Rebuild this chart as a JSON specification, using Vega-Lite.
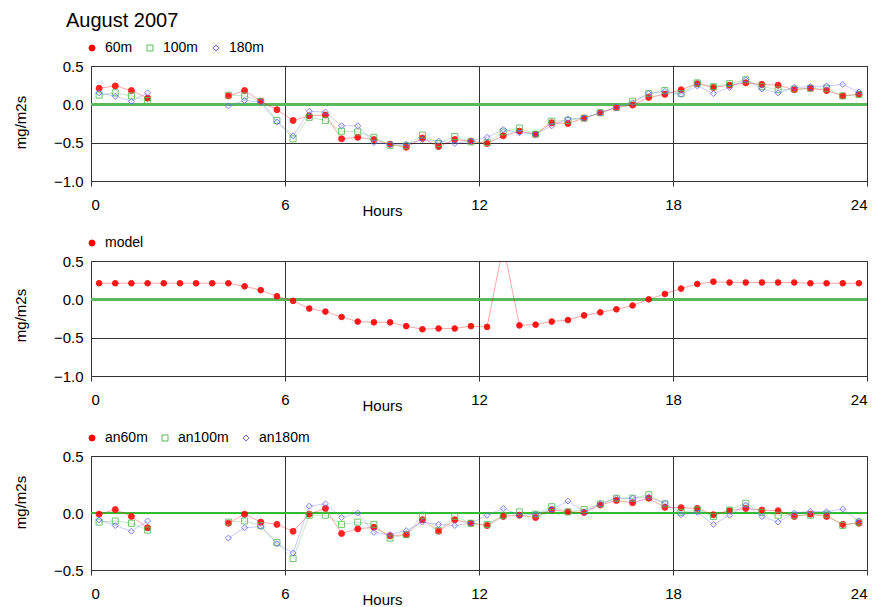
{
  "$schema": "https://vega.github.io/schema/vega-lite/v6.json",
  "padding": {"left": 12, "top": 10, "right": 0, "bottom": 0},
  "bounds": "flush",
  "spacing": 80,
  "title": {"text": "August 2007", "anchor": "start", "frame": "group", "fontSize": 20, "font": "Liberation Sans", "fontWeight": "normal", "color": "#000", "dx": -25, "offset": 10},
  "config": {
    "view": {"stroke": "#444", "strokeWidth": 1},
    "axis": {"labelFont": "Liberation Sans", "labelFontSize": 15, "labelColor": "#000", "titleFont": "Liberation Sans", "titleFontSize": 15, "titleFontWeight": "normal", "titleColor": "#000", "gridColor": "#333", "gridOpacity": 1, "gridWidth": 1, "tickColor": "#333", "domain": false},
    "legend": {"labelFont": "Liberation Sans", "labelFontSize": 14, "labelColor": "#000", "orient": "none", "legendX": -6, "legendY": -25, "direction": "horizontal", "title": null, "padding": 0, "labelOffset": 6, "columnPadding": 10, "symbolStrokeWidth": 1, "symbolSize": 36, "symbolOpacity": 1}
  },
  "datasets": {
    "obs": [
      {"h": 0.25, "60m": 0.21, "100m": 0.12, "180m": 0.15, "model": 0.21, "an60m": -0.01, "an100m": -0.08, "an180m": -0.06},
      {"h": 0.75, "60m": 0.24, "100m": 0.15, "180m": 0.105, "model": 0.21, "an60m": 0.03, "an100m": -0.07, "an180m": -0.11},
      {"h": 1.25, "60m": 0.18, "100m": 0.11, "180m": 0.04, "model": 0.21, "an60m": -0.03, "an100m": -0.09, "an180m": -0.16},
      {"h": 1.75, "60m": 0.08, "100m": 0.05, "180m": 0.15, "model": 0.21, "an60m": -0.13, "an100m": -0.15, "an180m": -0.07},
      {"h": 2.25, "60m": null, "100m": null, "180m": null, "model": 0.21, "an60m": null, "an100m": null, "an180m": null},
      {"h": 2.75, "60m": null, "100m": null, "180m": null, "model": 0.21, "an60m": null, "an100m": null, "an180m": null},
      {"h": 3.25, "60m": null, "100m": null, "180m": null, "model": 0.21, "an60m": null, "an100m": null, "an180m": null},
      {"h": 3.75, "60m": null, "100m": null, "180m": null, "model": 0.21, "an60m": null, "an100m": null, "an180m": null},
      {"h": 4.25, "60m": 0.11, "100m": 0.12, "180m": -0.02, "model": 0.21, "an60m": -0.09, "an100m": -0.08, "an180m": -0.22},
      {"h": 4.75, "60m": 0.18, "100m": 0.11, "180m": 0.05, "model": 0.17, "an60m": -0.01, "an100m": -0.07, "an180m": -0.13},
      {"h": 5.25, "60m": 0.04, "100m": 0.04, "180m": 0.03, "model": 0.12, "an60m": -0.08, "an100m": -0.11, "an180m": -0.12},
      {"h": 5.75, "60m": -0.07, "100m": -0.21, "180m": -0.23, "model": 0.04, "an60m": -0.10, "an100m": -0.26, "an180m": -0.27},
      {"h": 6.25, "60m": -0.21, "100m": -0.45, "180m": -0.41, "model": -0.02, "an60m": -0.16, "an100m": -0.40, "an180m": -0.35},
      {"h": 6.75, "60m": -0.15, "100m": -0.17, "180m": -0.09, "model": -0.12, "an60m": -0.01, "an100m": -0.02, "an180m": 0.06},
      {"h": 7.25, "60m": -0.14, "100m": -0.21, "180m": -0.10, "model": -0.16, "an60m": 0.04, "an100m": -0.02, "an180m": 0.08},
      {"h": 7.75, "60m": -0.45, "100m": -0.35, "180m": -0.28, "model": -0.23, "an60m": -0.18, "an100m": -0.10, "an180m": -0.04},
      {"h": 8.25, "60m": -0.43, "100m": -0.36, "180m": -0.28, "model": -0.29, "an60m": -0.14, "an100m": -0.08, "an180m": 0.00},
      {"h": 8.75, "60m": -0.46, "100m": -0.43, "180m": -0.50, "model": -0.30, "an60m": -0.125, "an100m": -0.10, "an180m": -0.17},
      {"h": 9.25, "60m": -0.52, "100m": -0.535, "180m": -0.52, "model": -0.30, "an60m": -0.20, "an100m": -0.22, "an180m": -0.19},
      {"h": 9.75, "60m": -0.56, "100m": -0.54, "180m": -0.52, "model": -0.35, "an60m": -0.19, "an100m": -0.19, "an180m": -0.155},
      {"h": 10.25, "60m": -0.44, "100m": -0.40, "180m": -0.46, "model": -0.39, "an60m": -0.06, "an100m": -0.02, "an180m": -0.08},
      {"h": 10.75, "60m": -0.55, "100m": -0.51, "180m": -0.48, "model": -0.38, "an60m": -0.16, "an100m": -0.155, "an180m": -0.10},
      {"h": 11.25, "60m": -0.46, "100m": -0.42, "180m": -0.51, "model": -0.38, "an60m": -0.06, "an100m": -0.03, "an180m": -0.11},
      {"h": 11.75, "60m": -0.48, "100m": -0.49, "180m": -0.48, "model": -0.35, "an60m": -0.09, "an100m": -0.09, "an180m": -0.09},
      {"h": 12.25, "60m": -0.51, "100m": -0.50, "180m": -0.43, "model": -0.36, "an60m": -0.11, "an100m": -0.10, "an180m": -0.02},
      {"h": 12.75, "60m": -0.41, "100m": -0.36, "180m": -0.33, "model": 0.70, "an60m": -0.03, "an100m": -0.02, "an180m": 0.04},
      {"h": 13.25, "60m": -0.35, "100m": -0.31, "180m": -0.37, "model": -0.34, "an60m": -0.02, "an100m": 0.01, "an180m": -0.02},
      {"h": 13.75, "60m": -0.39, "100m": -0.39, "180m": -0.39, "model": -0.33, "an60m": -0.04, "an100m": -0.01, "an180m": -0.01},
      {"h": 14.25, "60m": -0.24, "100m": -0.22, "180m": -0.28, "model": -0.29, "an60m": 0.03, "an100m": 0.055, "an180m": 0.03},
      {"h": 14.75, "60m": -0.25, "100m": -0.21, "180m": -0.19, "model": -0.27, "an60m": 0.01, "an100m": 0.01, "an180m": 0.105},
      {"h": 15.25, "60m": -0.18, "100m": -0.18, "180m": -0.18, "model": -0.21, "an60m": 0.005, "an100m": 0.03, "an180m": 0.01},
      {"h": 15.75, "60m": -0.11, "100m": -0.11, "180m": -0.11, "model": -0.17, "an60m": 0.07, "an100m": 0.08, "an180m": 0.08},
      {"h": 16.25, "60m": -0.04, "100m": -0.04, "180m": -0.04, "model": -0.13, "an60m": 0.11, "an100m": 0.13, "an180m": 0.13},
      {"h": 16.75, "60m": -0.01, "100m": 0.04, "180m": 0.02, "model": -0.08, "an60m": 0.09, "an100m": 0.13, "an180m": 0.13},
      {"h": 17.25, "60m": 0.09, "100m": 0.14, "180m": 0.14, "model": 0.00, "an60m": 0.13, "an100m": 0.16, "an180m": 0.14},
      {"h": 17.75, "60m": 0.13, "100m": 0.18, "180m": 0.17, "model": 0.07, "an60m": 0.05, "an100m": 0.08, "an180m": 0.085},
      {"h": 18.25, "60m": 0.19, "100m": 0.14, "180m": 0.13, "model": 0.14, "an60m": 0.047, "an100m": 0.006, "an180m": -0.015},
      {"h": 18.75, "60m": 0.27, "100m": 0.28, "180m": 0.24, "model": 0.20, "an60m": 0.04, "an100m": 0.026, "an180m": 0.006},
      {"h": 19.25, "60m": 0.22, "100m": 0.23, "180m": 0.14, "model": 0.23, "an60m": -0.015, "an100m": -0.03, "an180m": -0.10},
      {"h": 19.75, "60m": 0.25, "100m": 0.27, "180m": 0.22, "model": 0.22, "an60m": 0.02, "an100m": 0.026, "an180m": -0.02},
      {"h": 20.25, "60m": 0.28, "100m": 0.32, "180m": 0.32, "model": 0.22, "an60m": 0.04, "an100m": 0.085, "an180m": 0.07},
      {"h": 20.75, "60m": 0.26, "100m": 0.23, "180m": 0.20, "model": 0.22, "an60m": 0.026, "an100m": 0.006, "an180m": -0.03},
      {"h": 21.25, "60m": 0.25, "100m": 0.19, "180m": 0.15, "model": 0.22, "an60m": 0.02, "an100m": -0.02, "an180m": -0.08},
      {"h": 21.75, "60m": 0.19, "100m": 0.20, "180m": 0.22, "model": 0.22, "an60m": -0.03, "an100m": -0.02, "an180m": 0.00},
      {"h": 22.25, "60m": 0.21, "100m": 0.21, "180m": 0.23, "model": 0.21, "an60m": -0.01, "an100m": -0.02, "an180m": 0.015},
      {"h": 22.75, "60m": 0.18, "100m": 0.21, "180m": 0.24, "model": 0.21, "an60m": -0.03, "an100m": -0.01, "an180m": 0.01},
      {"h": 23.25, "60m": 0.11, "100m": 0.11, "180m": 0.26, "model": 0.21, "an60m": -0.10, "an100m": -0.11, "an180m": 0.035},
      {"h": 23.75, "60m": 0.13, "100m": 0.13, "180m": 0.16, "model": 0.21, "an60m": -0.09, "an100m": -0.08, "an180m": -0.07}
    ]
  },
  "resolve": {
    "scale": {"x": "independent", "y": "independent", "shape": "independent", "stroke": "independent", "fill": "independent"}
  },
  "vconcat": [
    {
      "width": 776, "height": 115,
      "data": {"name": "obs"},
      "transform": [{"fold": ["60m", "100m", "180m"], "as": ["s", "v"]}],
      "layer": [
        {"mark": {"type": "rule", "color": "#5cb85c", "strokeWidth": 2}, "encoding": {"y": {"datum": 0, "type": "quantitative"}}},
        {"mark": {"type": "line", "strokeWidth": 1, "opacity": 0.35, "clip": true, "invalid": "break-paths-filter-domains"},
         "encoding": {
           "x": {"field": "h", "type": "quantitative"},
           "y": {"field": "v", "type": "quantitative"},
           "stroke": {"field": "s", "type": "nominal"}
         }},
        {"mark": {"type": "point", "strokeWidth": 1, "opacity": 0.85, "size": 36, "clip": true, "invalid": "break-paths-filter-domains"},
         "encoding": {
           "x": {"field": "h", "type": "quantitative"},
           "y": {"field": "v", "type": "quantitative"},
           "shape": {"field": "s", "type": "nominal", "scale": {"domain": ["60m", "100m", "180m"], "range": ["circle", "square", "diamond"]}},
           "stroke": {"field": "s", "type": "nominal", "scale": {"domain": ["60m", "100m", "180m"], "range": ["#ff0000", "#55bb55", "#6666ff"]}},
           "fill": {"field": "s", "type": "nominal", "scale": {"domain": ["60m", "100m", "180m"], "range": ["#ff0000", "transparent", "transparent"]}}
         }}
      ],
      "encoding": {
        "x": {"type": "quantitative", "scale": {"domain": [0, 24], "nice": false, "zero": false},
          "axis": {"values": [0, 6, 12, 18, 24], "grid": true, "ticks": true, "tickSize": 5, "labelPadding": 11, "title": "Hours", "titleX": 291, "titleY": 22, "titleBaseline": "top", "titleAnchor": null}},
        "y": {"type": "quantitative", "scale": {"domain": [-1, 0.5], "nice": false, "zero": false},
          "axis": {"values": [0.5, 0, -0.5, -1], "format": ".1f", "grid": true, "ticks": false, "labelPadding": 8, "title": "mg/m2s", "titleX": -71, "titleY": 56, "titleAngle": 270, "titleAlign": "center", "titleBaseline": "middle"}}
      }
    },
    {
      "width": 776, "height": 115,
      "data": {"name": "obs"},
      "transform": [{"fold": ["model"], "as": ["s", "v"]}],
      "layer": [
        {"mark": {"type": "rule", "color": "#5cb85c", "strokeWidth": 2}, "encoding": {"y": {"datum": 0, "type": "quantitative"}}},
        {"mark": {"type": "line", "strokeWidth": 1, "opacity": 0.35, "clip": true},
         "encoding": {
           "x": {"field": "h", "type": "quantitative"},
           "y": {"field": "v", "type": "quantitative"},
           "stroke": {"field": "s", "type": "nominal"}
         }},
        {"mark": {"type": "point", "strokeWidth": 1, "opacity": 0.9, "size": 32, "clip": true},
         "encoding": {
           "x": {"field": "h", "type": "quantitative"},
           "y": {"field": "v", "type": "quantitative"},
           "shape": {"field": "s", "type": "nominal", "scale": {"domain": ["model"], "range": ["circle"]}},
           "stroke": {"field": "s", "type": "nominal", "scale": {"domain": ["model"], "range": ["#ff0000"]}},
           "fill": {"field": "s", "type": "nominal", "scale": {"domain": ["model"], "range": ["#ff0000"]}}
         }}
      ],
      "encoding": {
        "x": {"type": "quantitative", "scale": {"domain": [0, 24], "nice": false, "zero": false},
          "axis": {"values": [0, 6, 12, 18, 24], "grid": true, "ticks": true, "tickSize": 5, "labelPadding": 11, "title": "Hours", "titleX": 291, "titleY": 22, "titleBaseline": "top", "titleAnchor": null}},
        "y": {"type": "quantitative", "scale": {"domain": [-1, 0.5], "nice": false, "zero": false},
          "axis": {"values": [0.5, 0, -0.5, -1], "format": ".1f", "grid": true, "ticks": false, "labelPadding": 8, "title": "mg/m2s", "titleX": -71, "titleY": 54, "titleAngle": 270, "titleAlign": "center", "titleBaseline": "middle"}}
      }
    },
    {
      "width": 776, "height": 114,
      "data": {"name": "obs"},
      "transform": [{"fold": ["an60m", "an100m", "an180m"], "as": ["s", "v"]}],
      "layer": [
        {"mark": {"type": "rule", "color": "#33bb33", "strokeWidth": 1.2}, "encoding": {"y": {"datum": 0, "type": "quantitative"}}},
        {"mark": {"type": "line", "strokeWidth": 1, "opacity": 0.35, "clip": true, "invalid": "break-paths-filter-domains"},
         "encoding": {
           "x": {"field": "h", "type": "quantitative"},
           "y": {"field": "v", "type": "quantitative"},
           "stroke": {"field": "s", "type": "nominal"}
         }},
        {"mark": {"type": "point", "strokeWidth": 1, "opacity": 0.85, "size": 36, "clip": true, "invalid": "break-paths-filter-domains"},
         "encoding": {
           "x": {"field": "h", "type": "quantitative"},
           "y": {"field": "v", "type": "quantitative"},
           "shape": {"field": "s", "type": "nominal", "scale": {"domain": ["an60m", "an100m", "an180m"], "range": ["circle", "square", "diamond"]}},
           "stroke": {"field": "s", "type": "nominal", "scale": {"domain": ["an60m", "an100m", "an180m"], "range": ["#ff0000", "#55bb55", "#6666ff"]}},
           "fill": {"field": "s", "type": "nominal", "scale": {"domain": ["an60m", "an100m", "an180m"], "range": ["#ff0000", "transparent", "transparent"]}}
         }}
      ],
      "encoding": {
        "x": {"type": "quantitative", "scale": {"domain": [0, 24], "nice": false, "zero": false},
          "axis": {"values": [0, 6, 12, 18, 24], "grid": true, "ticks": true, "tickSize": 5, "labelPadding": 11, "title": "Hours", "titleX": 291, "titleY": 22, "titleBaseline": "top", "titleAnchor": null}},
        "y": {"type": "quantitative", "scale": {"domain": [-0.5, 0.5], "nice": false, "zero": false},
          "axis": {"values": [0.5, 0, -0.5], "format": ".1f", "grid": true, "ticks": false, "labelPadding": 8, "title": "mg/m2s", "titleX": -71, "titleY": 46, "titleAngle": 270, "titleAlign": "center", "titleBaseline": "middle"}}
      }
    }
  ]
}
